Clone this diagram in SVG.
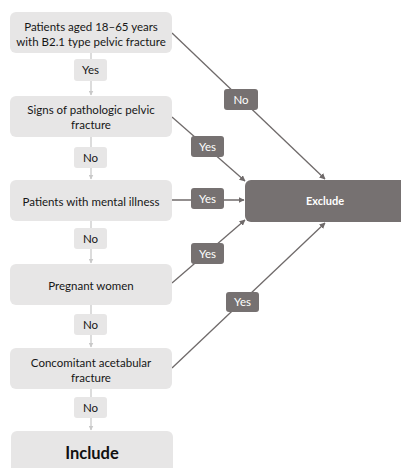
<svg xmlns="http://www.w3.org/2000/svg" width="401" height="468" viewBox="0 0 401 468">
<defs>
<style>
.box{fill:#e7e6e6;}
.dark{fill:#767171;}
.t{font-family:Lato,"Liberation Sans",sans-serif;font-size:11.5px;fill:#161616;text-anchor:middle;}
.lt{font-family:Lato,"Liberation Sans",sans-serif;font-size:11.5px;fill:#ffffff;text-anchor:middle;}
.vl{stroke:#c9c9c9;stroke-width:1.3;fill:none;}
.dl{stroke:#6f6a6a;stroke-width:1.3;fill:none;}
</style>
<marker id="ag" viewBox="0 0 10 10" refX="9" refY="5" markerWidth="5" markerHeight="5" orient="auto" markerUnits="userSpaceOnUse">
<path d="M0,0 L10,5 L0,10 z" fill="#c9c9c9"/>
</marker>
<marker id="ad" viewBox="0 0 10 10" refX="9" refY="5" markerWidth="6" markerHeight="6" orient="auto" markerUnits="userSpaceOnUse">
<path d="M0,0 L10,5 L0,10 z" fill="#6f6a6a"/>
</marker>
</defs>
<rect width="401" height="468" fill="#ffffff"/>

<g id="connectors">
<line class="vl" x1="91" y1="53" x2="91" y2="95" marker-end="url(#ag)"/>
<line class="vl" x1="91" y1="137" x2="91" y2="179" marker-end="url(#ag)"/>
<line class="vl" x1="91" y1="221" x2="91" y2="263" marker-end="url(#ag)"/>
<line class="vl" x1="91" y1="305" x2="91" y2="347" marker-end="url(#ag)"/>
<line class="vl" x1="91" y1="389" x2="91" y2="430" marker-end="url(#ag)"/>
<line class="dl" x1="172" y1="33" x2="325" y2="179" marker-end="url(#ad)"/>
<line class="dl" x1="172" y1="117" x2="245" y2="181" marker-end="url(#ad)"/>
<line class="dl" x1="172" y1="200" x2="244" y2="200" marker-end="url(#ad)"/>
<line class="dl" x1="172" y1="283" x2="245" y2="220" marker-end="url(#ad)"/>
<line class="dl" x1="172" y1="368" x2="325" y2="223" marker-end="url(#ad)"/>
</g>

<g id="lbl-yes1"><rect class="box" x="74" y="59" width="33" height="22" rx="3"/><text class="t" x="90.5" y="74">Yes</text></g>
<g id="lbl-no2"><rect class="box" x="74" y="147" width="33" height="21" rx="3"/><text class="t" x="90.5" y="161.5">No</text></g>
<g id="lbl-no3"><rect class="box" x="74" y="228" width="33" height="21" rx="3"/><text class="t" x="90.5" y="242.5">No</text></g>
<g id="lbl-no4"><rect class="box" x="74" y="314" width="33" height="21" rx="3"/><text class="t" x="90.5" y="328.5">No</text></g>
<g id="lbl-no5"><rect class="box" x="74" y="397" width="33" height="21" rx="3"/><text class="t" x="90.5" y="411.5">No</text></g>

<g id="lbl-ex-no"><rect class="dark" x="224" y="89" width="34" height="21" rx="3"/><text class="lt" x="241" y="103.5">No</text></g>
<g id="lbl-ex-yes2"><rect class="dark" x="191" y="136" width="33" height="21" rx="3"/><text class="lt" x="207.5" y="150.5">Yes</text></g>
<g id="lbl-ex-yes3"><rect class="dark" x="191" y="188" width="33" height="21" rx="3"/><text class="lt" x="207.5" y="202.5">Yes</text></g>
<g id="lbl-ex-yes4"><rect class="dark" x="191" y="243" width="33" height="21" rx="3"/><text class="lt" x="207.5" y="257.5">Yes</text></g>
<g id="lbl-ex-yes5"><rect class="dark" x="226" y="292" width="33" height="20" rx="3"/><text class="lt" x="242.5" y="306">Yes</text></g>

<g id="n1"><rect class="box" x="10" y="12" width="162" height="41" rx="6"/>
<text class="t" x="91" y="31">Patients aged 18–65 years</text>
<text class="t" x="91" y="46">with B2.1 type pelvic fracture</text></g>
<g id="n2"><rect class="box" x="10" y="96" width="162" height="41" rx="6"/>
<text class="t" x="91" y="114">Signs of pathologic pelvic</text>
<text class="t" x="91" y="128.5">fracture</text></g>
<g id="n3"><rect class="box" x="10" y="180" width="162" height="41" rx="6"/>
<text class="t" x="91" y="206">Patients with mental illness</text></g>
<g id="n4"><rect class="box" x="10" y="264" width="162" height="41" rx="6"/>
<text class="t" x="91" y="290">Pregnant women</text></g>
<g id="n5"><rect class="box" x="10" y="348" width="162" height="41" rx="6"/>
<text class="t" x="91" y="367">Concomitant acetabular</text>
<text class="t" x="91" y="381.5">fracture</text></g>
<g id="include"><rect class="box" x="11" y="431" width="162" height="45" rx="6"/>
<text x="92" y="459" style="font-family:Lato,'Liberation Sans',sans-serif;font-size:16.5px;font-weight:bold;fill:#111;text-anchor:middle">Include</text></g>
<g id="exclude"><rect class="dark" x="245" y="180" width="165" height="42" rx="6"/>
<text x="325" y="205" style="font-family:Lato,'Liberation Sans',sans-serif;font-size:11px;font-weight:bold;fill:#fff;text-anchor:middle">Exclude</text></g>
</svg>
